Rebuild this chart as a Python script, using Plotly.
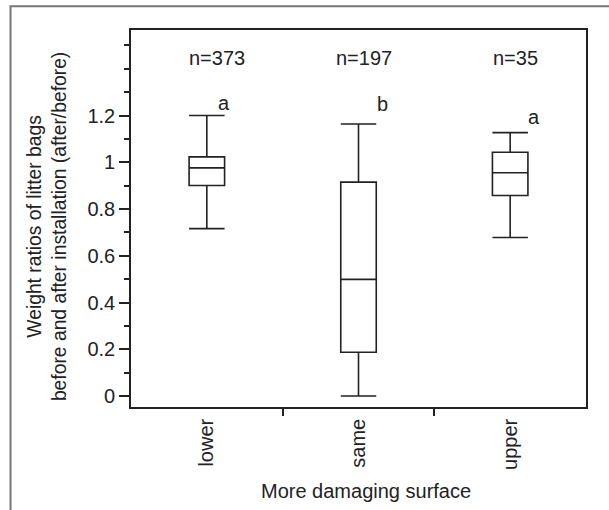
import plotly.graph_objects as go

categories = ["lower", "same", "upper"]
positions = [0, 1, 2]
lower_whisker = [0.716, 0.0, 0.678]
q1_vals = [0.901, 0.187, 0.858]
median_vals = [0.976, 0.499, 0.955]
q3_vals = [1.023, 0.915, 1.043]
upper_whisker = [1.200, 1.164, 1.127]
n_labels = ["n=373", "n=197", "n=35"]
letters = ["a", "b", "a"]
y_ticks = [0, 0.2, 0.4, 0.6, 0.8, 1.0, 1.2]
y_ticktext = ["0", "0.2", "0.4", "0.6", "0.8", "1", "1.2"]

FONT = "Liberation Sans, Arial, Helvetica, sans-serif"
INK = "#222222"

fig = go.Figure()
fig.add_trace(go.Box(
    x=positions,
    q1=q1_vals, median=median_vals, q3=q3_vals,
    lowerfence=lower_whisker, upperfence=upper_whisker,
    width=0.234, whiskerwidth=1,
    fillcolor="white",
    line=dict(color=INK, width=1.6),
    boxpoints=False, showlegend=False, hoverinfo="skip",
))

ann = []
n_x = [0.066, 1.038, 2.033]
for xv, t in zip(n_x, n_labels):
    ann.append(dict(x=xv, y=1.446, xref="x", yref="y", text=t, showarrow=False,
                    font=dict(size=20, color=INK, family=FONT),
                    xanchor="center", yanchor="middle"))
let_x = [0.11, 1.155, 2.155]
let_y = [1.255, 1.25, 1.195]
for xv, yv, t in zip(let_x, let_y, letters):
    ann.append(dict(x=xv, y=yv, xref="x", yref="y", text=t, showarrow=False,
                    font=dict(size=20, color=INK, family=FONT),
                    xanchor="center", yanchor="middle"))
ann.append(dict(x=0.5165, y=-0.224, xref="paper", yref="paper",
                text="More damaging surface", showarrow=False,
                font=dict(size=20, color=INK, family=FONT),
                xanchor="center", yanchor="middle"))
ann.append(dict(x=-0.1844, y=0.4774, xref="paper", yref="paper", textangle=-90,
                text="Weight ratios of litter bags<br>before and after installation (after/before)",
                showarrow=False, font=dict(size=19.3, color=INK, family=FONT),
                xanchor="center", yanchor="middle"))

fig.update_layout(
    width=609, height=510,
    margin=dict(l=131, r=23, t=30, b=103),
    plot_bgcolor="white", paper_bgcolor="white",
    font=dict(family=FONT, size=20, color=INK),
    annotations=ann,
    shapes=[dict(type="rect", xref="paper", yref="paper",
                 x0=-0.2648, x1=1.3, y0=-0.6, y1=1.0632,
                 line=dict(color="#777777", width=2), layer="below")],
    xaxis=dict(range=[-0.5, 2.5], tickvals=positions, ticktext=categories,
               tickangle=-90, ticks="outside", ticklen=2, tickcolor="rgba(0,0,0,0)",
               showline=True, linecolor=INK, linewidth=1.6, mirror=True,
               showgrid=False, zeroline=False, automargin=False,
               tickfont=dict(size=20, color=INK, family=FONT)),
    xaxis2=dict(range=[-0.5, 2.5], overlaying="x", side="bottom", anchor="y",
                tickvals=[0.5, 1.5], showticklabels=False,
                ticks="outside", ticklen=8, tickwidth=1.6, tickcolor=INK,
                showline=False, showgrid=False, zeroline=False, automargin=False),
    yaxis=dict(range=[-0.047, 1.566], tickvals=y_ticks, ticktext=y_ticktext,
               ticks="outside", ticklen=10, tickwidth=1.6, tickcolor=INK,
               minor=dict(dtick=0.1, tick0=0, ticks="outside", ticklen=5,
                          tickwidth=1.6, tickcolor=INK, showgrid=False),
               showline=True, linecolor=INK, linewidth=1.6, mirror=True,
               showgrid=False, zeroline=False, automargin=False,
               tickfont=dict(size=20, color=INK, family=FONT)),
)
# invisible trace on xaxis2 so the boundary ticks are drawn
fig.add_trace(go.Scatter(x=[None], y=[None], xaxis="x2", yaxis="y",
                         showlegend=False, hoverinfo="skip"))

fig.write_html("out.html", config={"displayModeBar": False},
               post_script="document.body.style.margin='0';document.body.style.overflow='hidden';")
